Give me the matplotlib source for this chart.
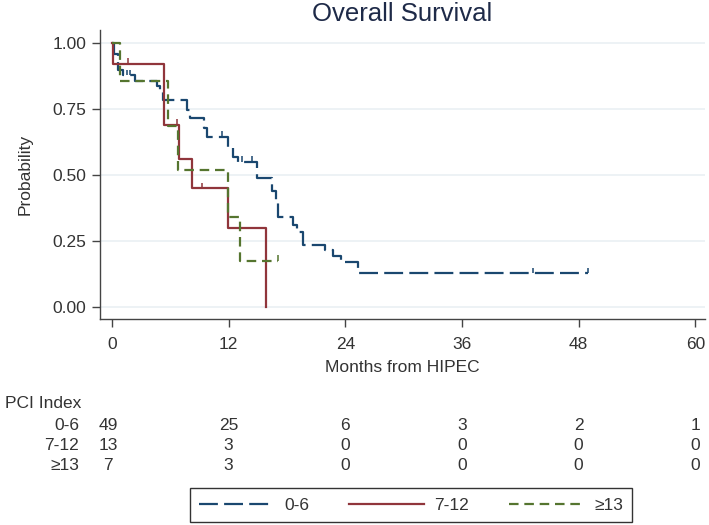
import matplotlib
matplotlib.use("Agg")
import matplotlib.pyplot as plt
from matplotlib.lines import Line2D
from matplotlib.transforms import blended_transform_factory

plt.rcParams['font.family'] = ['Liberation Sans', 'DejaVu Sans']

# Kaplan-Meier steps (months, survival)
t_06 = [0, 0.2, 0.6, 1.1, 2.4, 4.6, 4.9, 5.3, 7.7, 8.0, 9.5, 9.8, 11.9, 12.4,
        13.0, 14.9, 16.5, 16.9, 17.1, 18.6, 19.0, 19.6, 21.9, 22.7, 23.6, 25.3, 49.0]
s_06 = [1.0, 0.959, 0.898, 0.878, 0.857, 0.837, 0.816, 0.786, 0.745, 0.716, 0.68,
        0.645, 0.606, 0.57, 0.55, 0.49, 0.44, 0.40, 0.34, 0.31, 0.285, 0.235, 0.215,
        0.195, 0.172, 0.128, 0.128]
cens_t_06 = [1.5, 1.9, 11.3, 13.4, 14.4, 43.3, 49.0]
cens_s_06 = [0.878, 0.878, 0.645, 0.55, 0.55, 0.128, 0.128]

t_712 = [0, 0.1, 5.4, 6.9, 8.2, 11.9, 15.8]
s_712 = [1.0, 0.923, 0.69, 0.56, 0.45, 0.30, 0.0]
cens_t_712 = [1.6, 6.7, 9.3]
cens_s_712 = [0.923, 0.69, 0.45]

t_13 = [0, 0.8, 5.8, 6.8, 11.9, 13.2, 17.1]
s_13 = [1.0, 0.857, 0.686, 0.52, 0.343, 0.175, 0.175]
cens_t_13 = [17.1]
cens_s_13 = [0.175]

groups = ['0-6', '7-12', '\u226513']
at_risk_months = [0, 12, 24, 36, 48, 60]
at_risk = [[49, 25, 6, 3, 2, 1],
           [13, 3, 0, 0, 0, 0],
           [7, 3, 0, 0, 0, 0]]

navy = '#1a476f'
maroon = '#90353b'
green = '#55752f'
txt = '#333333'
fs = 12.5

fig = plt.figure(figsize=(7.09, 5.25), dpi=100)
ax = fig.add_axes([100/709, 1-319/525, 605/709, 289/525])

lw = 1.6
ax.step(t_06, s_06, where='post', color=navy, lw=lw, linestyle=(0, (8.5, 2.8)))
ax.step(t_712, s_712, where='post', color=maroon, lw=lw)
ax.step(t_13, s_13, where='post', color=green, lw=lw, linestyle=(0, (4.3, 2.6)))

for ct, cs, c in [(cens_t_06, cens_s_06, navy), (cens_t_712, cens_s_712, maroon),
                  (cens_t_13, cens_s_13, green)]:
    ax.vlines(ct, cs, [v + 0.022 for v in cs], color=c, lw=1.1)

ax.set_xlim(-1.23, 61.0)
ax.set_ylim(-0.045, 1.05)
ax.set_xticks(at_risk_months)
ax.set_yticks([0, 0.25, 0.5, 0.75, 1.0])
ax.set_yticklabels(['0.00', '0.25', '0.50', '0.75', '1.00'])
ax.tick_params(axis='both', labelsize=fs, labelcolor=txt, color='#444444',
               length=6, width=1)
ax.tick_params(axis='x', pad=7)
ax.tick_params(axis='y', pad=4)
for y in [0, 0.25, 0.5, 0.75, 1.0]:
    ax.axhline(y, color='#eaf0f4', lw=1.2, zorder=0)
for sp in ['top', 'right']:
    ax.spines[sp].set_visible(False)
for sp in ['left', 'bottom']:
    ax.spines[sp].set_color('#444444')
    ax.spines[sp].set_linewidth(1)

ax.set_xlabel('Months from HIPEC', fontsize=fs, color=txt, labelpad=6)
ax.set_ylabel('Probability', fontsize=fs, color=txt, labelpad=14)
fig.text(402/709, 1-21/525, 'Overall Survival', fontsize=18.5, color='#1e2a48',
         ha='center', va='baseline')

# number at risk table
tr = blended_transform_factory(ax.transData, fig.transFigure)
fig.text(5/709, 1-404/525, 'PCI Index', fontsize=fs, color=txt, ha='left', va='center')
row_y = [425, 445, 465]
for g, row, yy in zip(groups, at_risk, row_y):
    fig.text(79/709, 1-yy/525, g, fontsize=fs, color=txt, ha='right', va='center')
    for m, n in zip(at_risk_months, row):
        x = m - 0.4 if m == 0 else m
        ax.text(x, 1-yy/525, str(n), transform=tr, fontsize=fs, color=txt,
                ha='center', va='center', clip_on=False)

handles = [Line2D([], [], color=navy, lw=lw, linestyle=(0, (8.5, 2.8))),
           Line2D([], [], color=maroon, lw=lw),
           Line2D([], [], color=green, lw=lw, linestyle=(0, (4.3, 2.6)))]
leg = fig.legend(handles, groups, loc='center', bbox_to_anchor=(411/709, 1-505/525),
                 ncol=3, fontsize=fs, frameon=True, fancybox=False, handlelength=4.3,
                 handletextpad=0.6, columnspacing=2.3, borderpad=0.55)
leg.get_frame().set_edgecolor('black')
leg.get_frame().set_linewidth(1)
for t in leg.get_texts():
    t.set_color(txt)

fig.savefig('out.png', dpi=100, facecolor='white')
